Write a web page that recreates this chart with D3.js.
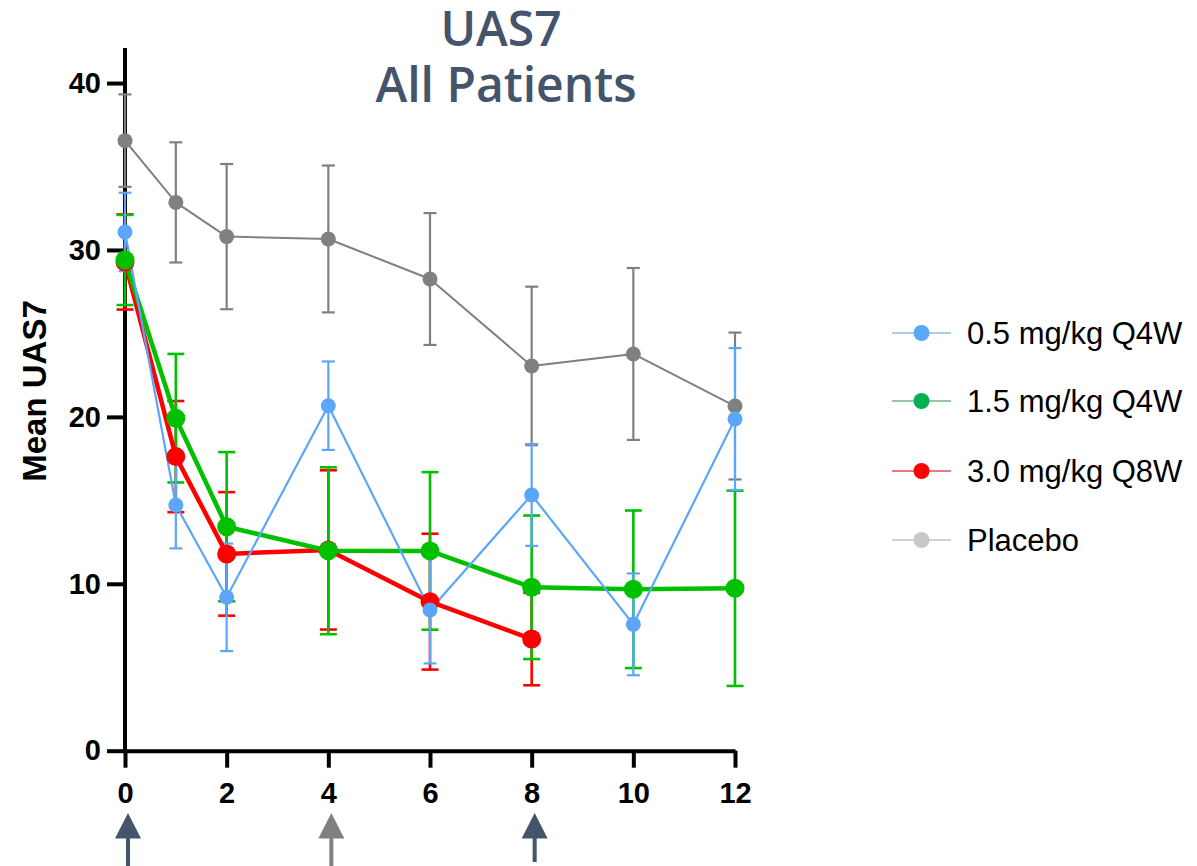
<!DOCTYPE html>
<html>
<head>
<meta charset="utf-8">
<script src="https://cdn.jsdelivr.net/npm/d3@7"></script>
<style>
  html, body { margin: 0; padding: 0; background: #fff; }
  svg { display: block; }
</style>
</head>
<body>
<svg id="chart" width="1197" height="866"></svg>
<script>
// Study weeks with a UAS7 assessment
const weeks = [0, 1, 2, 4, 6, 8, 10, 12];
const xTicks = [0, 2, 4, 6, 8, 10, 12];
const yTicks = [0, 10, 20, 30, 40];

// Mean UAS7 and error (half-width of bar) per arm
const placeboMean = [36.55, 32.85, 30.8, 30.66, 28.26, 23.05, 23.77, 20.65];
const placeboErr  = [2.77, 3.6, 4.35, 4.4, 3.95, 4.75, 5.15, 4.4];
const dose05Mean  = [31.08, 14.72, 9.19, 20.67, 8.43, 15.32, 7.57, 19.87];
const dose05Err   = [2.35, 2.6, 3.22, 2.65, 3.2, 3.05, 3.05, 4.25];
const dose15Mean  = [29.4, 19.92, 13.42, 11.98, 11.97, 9.79, 9.67, 9.73];
const dose15Err   = [2.7, 3.85, 4.47, 5.0, 4.72, 4.3, 4.72, 5.85];
const dose30Mean  = [29.28, 17.62, 11.79, 12.03, 8.93, 6.69];
const dose30Err   = [2.85, 3.33, 3.7, 4.77, 4.07, 2.77];

// Dosing arrows under the time axis
const doseWeeks  = [0, 4, 8];
const doseColors = ["#44546a", "#808080", "#44546a"];

const legendLabels = ["0.5 mg/kg Q4W", "1.5 mg/kg Q4W", "3.0 mg/kg Q8W", "Placebo"];

const series = [
  { name: "Placebo", mean: placeboMean, err: placeboErr, color: "#808080", lw: 2, ebw: 2.2, cap: 13, r: 7.5 },
  { name: "3.0 mg/kg Q8W", mean: dose30Mean, err: dose30Err, color: "#ff0000", lw: 4.5, ebw: 2.6, cap: 17, r: 9.5 },
  { name: "1.5 mg/kg Q4W", mean: dose15Mean, err: dose15Err, color: "#00c000", lw: 4.5, ebw: 2.6, cap: 17, r: 9.5 },
  { name: "0.5 mg/kg Q4W", mean: dose05Mean, err: dose05Err, color: "#5ba6fa", lw: 2.2, ebw: 2.2, cap: 13, r: 7.5 }
];

const legendItems = [
  { marker: "#5ba8fa", line: "#5b9bd5" },
  { marker: "#00b050", line: "#2e8b57" },
  { marker: "#ff0000", line: "#c00000" },
  { marker: "#c8c8c8", line: "#a6a6a6" }
];

const svg = d3.select("#chart");

const x = d3.scaleLinear().domain([0, 12]).range([125, 735]);
const y = d3.scaleLinear().domain([0, 42.1]).range([750.7, 48]);

// Title
const title = svg.append("g")
  .attr("font-family", "'Open Sans', sans-serif")
  .attr("font-weight", 600)
  .attr("font-size", 48)
  .attr("fill", "#44546a")
  .attr("text-anchor", "middle");
title.append("text").attr("x", 501).attr("y", 46).text("UAS7");
title.append("text").attr("x", 506).attr("y", 102).text("All Patients");

// Axes
const yAxis = svg.append("g")
  .attr("transform", `translate(${x(0)},0)`)
  .call(d3.axisLeft(y).tickValues(yTicks).tickSize(18).tickSizeOuter(0).tickPadding(6));
const xAxis = svg.append("g")
  .attr("transform", `translate(0,${y(0)})`)
  .call(d3.axisBottom(x).tickValues(xTicks).tickSize(17).tickSizeOuter(0).tickPadding(15));

[yAxis, xAxis].forEach(g => {
  g.select(".domain").attr("stroke", "#000").attr("stroke-width", 4);
  g.selectAll(".tick line").attr("stroke", "#000").attr("stroke-width", 4);
  g.selectAll(".tick text")
    .attr("fill", "#000")
    .attr("font-family", "'Liberation Sans', Arial, sans-serif")
    .attr("font-weight", "bold")
    .attr("font-size", 29);
});
// y axis runs slightly above the top tick
yAxis.select(".domain").attr("d", `M0,${y(42.1)}V${y(0)}`);

// Y axis title
svg.append("text")
  .attr("transform", `translate(46,391) rotate(-90)`)
  .attr("text-anchor", "middle")
  .attr("font-family", "'Liberation Sans', Arial, sans-serif")
  .attr("font-weight", "bold")
  .attr("font-size", 33)
  .attr("fill", "#000")
  .text("Mean UAS7");

const plot = svg.append("g");
const errLayer = plot.append("g");
const lineLayer = plot.append("g");
const dotLayer = plot.append("g");

series.forEach(s => {
  const pts = s.mean.map((m, i) => ({ wk: weeks[i], m, e: s.err[i] }));

  const eb = errLayer.append("g").attr("stroke", s.color).attr("stroke-width", s.ebw).attr("fill", "none");
  pts.forEach(p => {
    const cx = x(p.wk), yt = y(p.m + p.e), yb = y(p.m - p.e);
    eb.append("line").attr("x1", cx).attr("x2", cx).attr("y1", yt).attr("y2", yb);
    eb.append("line").attr("x1", cx - s.cap / 2).attr("x2", cx + s.cap / 2).attr("y1", yt).attr("y2", yt);
    eb.append("line").attr("x1", cx - s.cap / 2).attr("x2", cx + s.cap / 2).attr("y1", yb).attr("y2", yb);
  });

  lineLayer.append("path")
    .datum(pts)
    .attr("fill", "none")
    .attr("stroke", s.color)
    .attr("stroke-width", s.lw)
    .attr("stroke-linejoin", "round")
    .attr("d", d3.line().x(p => x(p.wk)).y(p => y(p.m)));

  dotLayer.append("g").selectAll("circle")
    .data(pts)
    .join("circle")
    .attr("cx", p => x(p.wk))
    .attr("cy", p => y(p.m))
    .attr("r", s.r)
    .attr("fill", s.color);
});

// Dosing arrows
const arrows = svg.append("g");
doseWeeks.forEach((wk, i) => {
  const cx = x(wk) + 3;
  const g = arrows.append("g").attr("fill", doseColors[i]).attr("stroke", doseColors[i]);
  g.append("path")
    .attr("stroke", "none")
    .attr("d", `M${cx},813L${cx - 13},838.5L${cx + 13},838.5Z`);
  g.append("line")
    .attr("x1", cx).attr("x2", cx)
    .attr("y1", 838).attr("y2", wk === 8 ? 862 : 866)
    .attr("stroke-width", 4);
});

// Legend
const legend = svg.append("g")
  .attr("font-family", "'Liberation Sans', Arial, sans-serif")
  .attr("font-size", 31)
  .attr("fill", "#000");
const rowY = [333, 401, 471, 540];
legendLabels.forEach((lab, i) => {
  const g = legend.append("g").attr("transform", `translate(0,${rowY[i]})`);
  g.append("line").attr("x1", 892).attr("x2", 951).attr("y1", 0).attr("y2", 0)
    .attr("stroke", legendItems[i].line).attr("stroke-width", 1.2);
  g.append("circle").attr("cx", 921.5).attr("cy", 0).attr("r", 8).attr("fill", legendItems[i].marker);
  g.append("text").attr("x", 967).attr("y", 0).attr("dy", "0.36em").text(lab);
});
</script>
</body>
</html>
